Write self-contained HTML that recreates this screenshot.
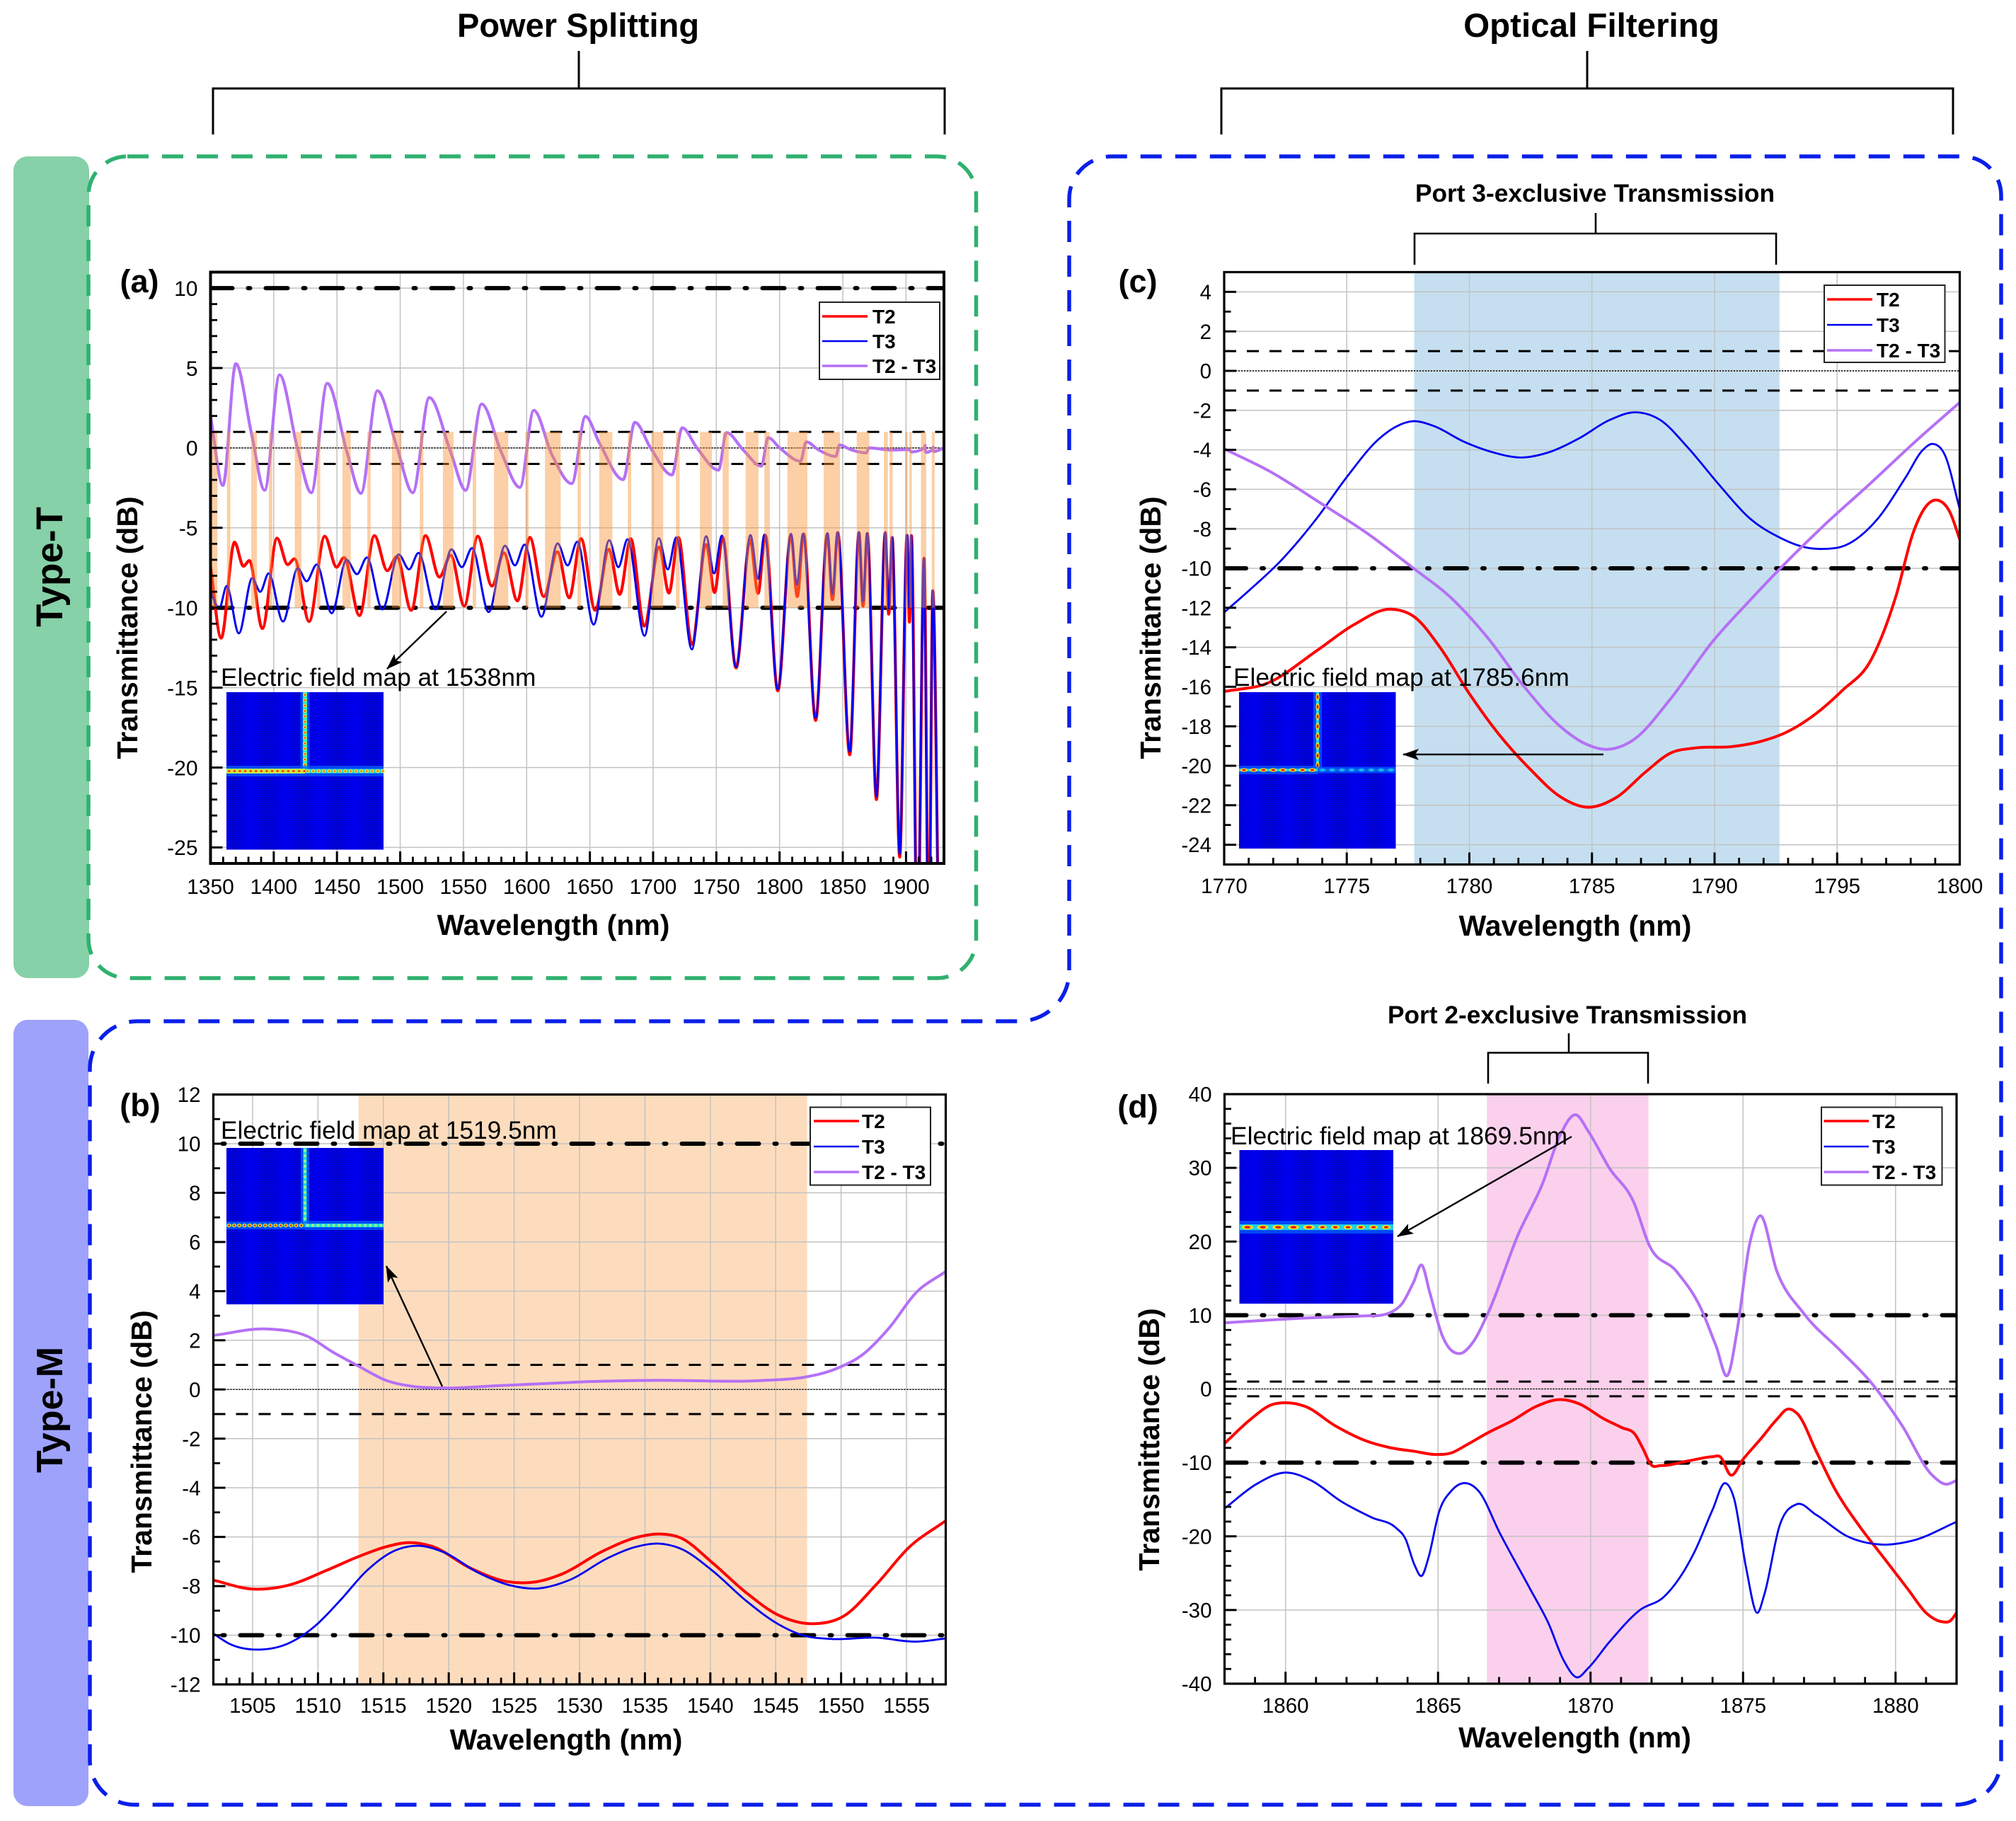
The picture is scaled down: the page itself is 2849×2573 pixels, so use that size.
<!DOCTYPE html>
<html lang="en">
<head>
<meta charset="utf-8">
<title>Transmittance spectra of Type-T and Type-M splitters</title>
<style>
html,body{margin:0;padding:0;background:#fff}
svg{display:block}
text{font-family:"Liberation Sans",Arial,sans-serif;fill:#000}
.b{font-weight:bold}
</style>
</head>
<body>
<svg id="fig" xmlns="http://www.w3.org/2000/svg" width="2849" height="2573" viewBox="0 0 2849 2573">
<defs>
<pattern id="fieldDots" patternUnits="userSpaceOnUse" width="3" height="3"><rect width="3" height="3" fill="#0000ee"/><circle cx="1.5" cy="1.5" r="0.65" fill="#00008c"/></pattern>
<marker id="arrowHead" markerUnits="userSpaceOnUse" markerWidth="24" markerHeight="20" refX="22" refY="10" orient="auto"><path d="M0,2 L23,10 L0,18 L5,10 Z" fill="#000"/></marker>
</defs>
<rect width="2849" height="2573" fill="#fff"/>

<text class="b" x="817" y="52" font-size="47" text-anchor="middle">Power Splitting</text>
<text class="b" x="2249" y="52" font-size="47.5" text-anchor="middle">Optical Filtering</text>
<path d="M301,190V125H1335V190M818,125V72" fill="none" stroke="#000" stroke-width="3"/>
<path d="M1726,190V125H2760V190M2243,125V72" fill="none" stroke="#000" stroke-width="3"/>

<rect x="19" y="221" width="107" height="1161" rx="20" fill="#86d1a7"/>
<rect x="19" y="1441" width="106" height="1111" rx="20" fill="#9ea2fb"/>
<text class="b" font-size="53" text-anchor="middle" transform="translate(88,801) rotate(-90)">Type-T</text>
<text class="b" font-size="52" text-anchor="middle" transform="translate(88,1992) rotate(-90)">Type-M</text>

<rect x="125" y="221" width="1254.5" height="1161" rx="55" fill="none" stroke="#2fb16f" stroke-width="5.5" stroke-dasharray="30 19"/>
<path d="M1511,1371V281A60,60 0 0 1 1571,221H2773A55,55 0 0 1 2828,276V2485A65,65 0 0 1 2763,2550H190A63,63 0 0 1 127,2487V1510A67,67 0 0 1 194,1443H1440A71,71 0 0 0 1511,1371Z" fill="none" stroke="#0a1fe8" stroke-width="5.5" stroke-dasharray="30 19"/>

<text class="b" x="2254" y="285" font-size="35.3" text-anchor="middle">Port 3-exclusive Transmission</text>
<path d="M1999,374V330H2510V374M2255,330V301" fill="none" stroke="#000" stroke-width="2.6"/>
<text class="b" x="2215" y="1446" font-size="35.3" text-anchor="middle">Port 2-exclusive Transmission</text>
<path d="M2103,1531V1487.5H2329V1531M2217,1487.5V1460" fill="none" stroke="#000" stroke-width="2.6"/>

<g id="charts"></g>

<text class="b" x="197" y="413" font-size="45" text-anchor="middle">(a)</text>
<text class="b" x="198" y="1577" font-size="45" text-anchor="middle">(b)</text>
<text class="b" x="1608" y="413" font-size="45" text-anchor="middle">(c)</text>
<text class="b" x="1608" y="1579" font-size="45" text-anchor="middle">(d)</text>

<text x="312" y="969" font-size="35.3">Electric field map at 1538nm</text>
<text x="312" y="1609" font-size="35.3">Electric field map at 1519.5nm</text>
<text x="1743" y="969" font-size="35.3">Electric field map at 1785.6nm</text>
<text x="1739" y="1617" font-size="35.4">Electric field map at 1869.5nm</text>

<line x1="631" y1="864" x2="547" y2="945" stroke="#000" stroke-width="2.4" marker-end="url(#arrowHead)"/>
<line x1="625" y1="1959" x2="546" y2="1789" stroke="#000" stroke-width="2.4" marker-end="url(#arrowHead)"/>
<line x1="2266" y1="1066" x2="1983" y2="1066" stroke="#000" stroke-width="2.4" marker-end="url(#arrowHead)"/>
<line x1="2221" y1="1606" x2="1975" y2="1747" stroke="#000" stroke-width="2.4" marker-end="url(#arrowHead)"/>
</svg>

<script>
/* ---------- panel (a) values ---------- */
const a_x_ticks = [1350,1400,1450,1500,1550,1600,1650,1700,1750,1800,1850,1900];
const a_y_ticks = [10,5,0,-5,-10,-15,-20,-25];
const a_t2_nm = [1350,1358.4,1369,1376,1380.8,1391,1402.6,1411,1416.4,1428,1440.3,1449.7,1455.6,1467.8,1479.6,1489.8,1497.3,1508.7,1520,1531,1540,1550.7,1561.3,1572.5,1582,1592.7,1602.5,1613.5,1624.3,1633.7,1643,1654.2,1665,1673.6,1682.3,1693,1704.8,1712.5,1720,1730.6,1742,1748.6,1755,1765.6,1776.7,1783,1788.7,1798.6,1809,1814,1819,1828.5,1837.8,1841.8,1846,1855.5,1862.8,1866,1869.4,1876.6,1883.6,1886.3,1889,1895,1900.8,1902.7,1904.3,1909,1914.3,1918,1921.2,1926];
const a_t2_db = [-7.4,-11.9,-5.9,-7.4,-7.05,-11.3,-5.65,-7.3,-6.94,-10.86,-5.53,-7.46,-6.86,-10.49,-5.49,-7.68,-6.8,-10.16,-5.49,-8.08,-6.72,-9.9,-5.53,-8.64,-6.57,-9.57,-5.6,-9.3,-6.5,-9.38,-5.68,-10.16,-6.35,-9.16,-5.68,-11.15,-6.2,-9.08,-5.6,-12.3,-6.05,-9.05,-5.6,-13.76,-5.75,-9.1,-5.46,-15.2,-5.46,-9.3,-5.38,-17.05,-5.38,-9.5,-5.3,-19.2,-5.3,-9.9,-5.35,-22,-5.3,-10.4,-5.6,-25.6,-5.46,-10.9,-5.5,-32,-6.9,-32,-8.94,-32];
const a_t3_nm = [1350,1356.9,1362.8,1372.4,1383,1389.3,1396,1407.3,1419,1426,1434,1445.8,1457.6,1465.8,1473.7,1485.9,1498.8,1507,1514.5,1528,1540.5,1548.7,1556.8,1570,1582.9,1590.7,1598.4,1611.7,1624.5,1632.4,1640,1653,1665.3,1672.5,1679.8,1693.2,1704.5,1711.6,1718.3,1730.6,1742,1748.2,1754.4,1765.6,1777,1783,1788,1798.6,1809,1813.7,1818.5,1828.5,1837.8,1841.8,1846,1855.5,1862.7,1866,1869.2,1876.6,1883.6,1886.5,1889,1895,1900.8,1902.7,1904,1909,1914,1918,1921.2,1926];
const a_t3_db = [-9,-10.04,-8.64,-11.6,-8.15,-9,-7.85,-10.86,-7.53,-8.34,-7.3,-10.34,-7,-7.9,-6.86,-10.1,-6.67,-7.6,-6.57,-10.1,-6.35,-7.46,-6.27,-10.27,-6.12,-7.35,-6.05,-10.56,-5.98,-7.35,-5.87,-11.05,-5.78,-7.46,-5.72,-11.75,-5.65,-7.6,-5.6,-12.6,-5.53,-7.85,-5.49,-13.7,-5.46,-8.2,-5.43,-15.1,-5.38,-8.56,-5.38,-16.9,-5.34,-9.13,-5.3,-19,-5.28,-9.6,-5.34,-21.8,-5.3,-10.04,-5.6,-25.4,-5.46,-10,-5.46,-32,-6.94,-32,-8.94,-32];
const a_diff_nm = [1350,1359.8,1370,1382.4,1392.8,1404.6,1418.7,1429.7,1442.3,1458,1469,1482,1497,1510,1523,1540,1551.8,1564.4,1580,1594.7,1605.6,1620,1635.7,1646.5,1657.6,1676.3,1685.6,1698,1714.9,1723,1734.7,1751.7,1758,1771.3,1785.6,1791,1800,1816.6,1821,1831,1844.5,1847.4,1856,1868.6,1870.5,1889,1902.3,1904.3,1914.5,1915,1915.6,1920.8,1921.4,1922,1930];
const a_diff_db = [2,-2.35,5.27,0.9,-2.65,4.57,0,-2.8,4.04,-0.28,-2.84,3.57,0.16,-2.8,3.15,-0.28,-2.65,2.75,-0.28,-2.47,2.35,-0.43,-2.23,1.97,0.3,-1.98,1.6,0,-1.69,1.26,0,-1.39,0.96,-0.13,-1.14,0.64,0.01,-0.83,0.38,-0.13,-0.53,0.19,-0.1,-0.31,0,-0.13,-0.1,-0.25,-0.02,0.16,-0.28,-0.12,0.05,-0.22,0];
const a_band_start = [1350.4,1363,1382.2,1396.1,1416.6,1434.2,1454.3,1474,1493.5,1515.5,1533.8,1557.3,1574.2,1599,1614.5,1640.2,1657.4,1680,1698.5,1718,1737,1755,1773.2,1788,1806.2,1834.9,1861,1882.5,1887,1899.3,1902.5,1911.8,1920.4];
const a_band_end = [1355.5,1365.7,1386.7,1398.9,1421.9,1436.8,1460.9,1476.6,1501,1518.3,1542.2,1560,1585.4,1601.6,1626.9,1642.9,1667.8,1682.7,1708,1721,1746.5,1759.8,1783.3,1792.3,1822,1847.8,1871,1885.6,1889.4,1901.4,1904.6,1916,1922.6];

/* ---------- panel (b) values ---------- */
const b_x_ticks = [1505,1510,1515,1520,1525,1530,1535,1540,1545,1550,1555];
const b_y_ticks = [12,10,8,6,4,2,0,-2,-4,-6,-8,-10,-12];
const b_t2_nm = [1502,1505,1507.7,1510.7,1513.1,1515.2,1517,1518.7,1521.7,1524.5,1526.5,1528.7,1531.7,1534.5,1536,1537.7,1540.2,1542.7,1545.2,1548,1550.2,1552.7,1555.2,1558];
const b_t2_db = [-7.76,-8.12,-7.97,-7.35,-6.8,-6.4,-6.23,-6.38,-7.28,-7.82,-7.84,-7.5,-6.6,-6,-5.88,-6.03,-7.07,-8.25,-9.18,-9.53,-9.22,-7.93,-6.42,-5.34];
const b_t3_nm = [1502,1503.2,1505.7,1507.7,1509.7,1511.7,1513.7,1515.7,1517.6,1519.7,1522.2,1524.7,1526.7,1529.2,1532.2,1534.2,1536,1537.7,1540.2,1542.7,1545.2,1547.2,1549.2,1552.7,1555.7,1558];
const b_t3_db = [-9.93,-10.34,-10.58,-10.34,-9.66,-8.58,-7.39,-6.6,-6.36,-6.64,-7.44,-7.97,-8.1,-7.76,-6.85,-6.42,-6.27,-6.47,-7.39,-8.58,-9.55,-10.02,-10.15,-10.1,-10.26,-10.13];
const b_diff_nm = [1502,1506.2,1509.2,1511.2,1513.1,1515.2,1517.2,1519.7,1523.7,1528.2,1530.7,1535.7,1544.2,1547.2,1549.7,1551.7,1553.7,1555.7,1558];
const b_diff_db = [2.2,2.46,2.16,1.5,0.95,0.37,0.13,0.06,0.15,0.26,0.32,0.37,0.37,0.5,0.86,1.44,2.52,3.92,4.8];
const b_band_start = [1513.1];
const b_band_end = [1547.4];

/* ---------- panel (c) values ---------- */
const c_x_ticks = [1770,1775,1780,1785,1790,1795,1800];
const c_y_ticks = [4,2,0,-2,-4,-6,-8,-10,-12,-14,-16,-18,-20,-22,-24];
const c_t2_nm = [1770,1771.8,1773.8,1775.3,1776.8,1777.8,1778.8,1780,1781.2,1782.5,1783.7,1784.85,1786,1787.2,1788.2,1789.2,1790.7,1791.9,1792.9,1794.2,1795.2,1796.4,1797.4,1798.1,1798.6,1799.1,1799.6,1800];
const c_t2_db = [-16.24,-15.8,-14.15,-12.85,-12.07,-12.5,-14,-16.35,-18.4,-20.2,-21.56,-22.1,-21.6,-20.3,-19.36,-19.1,-19.03,-18.76,-18.32,-17.3,-16.2,-14.6,-11.4,-8.2,-6.9,-6.55,-7.16,-8.53];
const c_t3_nm = [1770,1771,1772.3,1773.8,1775,1776.3,1777,1777.7,1778.5,1779.8,1781,1782.1,1783.2,1784.5,1785.7,1786.8,1787.8,1788.9,1790.2,1791.4,1792.7,1793.7,1794.4,1795.4,1796.6,1797.8,1798.5,1798.9,1799.4,1800];
const c_t3_db = [-12.23,-11.14,-9.63,-7.43,-5.38,-3.46,-2.83,-2.55,-2.77,-3.6,-4.14,-4.39,-4.14,-3.4,-2.5,-2.1,-2.5,-3.87,-5.79,-7.43,-8.47,-8.94,-9.02,-8.8,-7.57,-5.38,-4,-3.7,-4.28,-7];
const c_diff_nm = [1770,1771.8,1774,1775.8,1777.7,1779.3,1780.8,1782.2,1783.7,1784.7,1785.6,1786.7,1788.2,1789.9,1791.4,1792.7,1794.4,1796.4,1798.1,1800];
const c_diff_db = [-3.95,-5.05,-6.75,-8.2,-9.98,-11.55,-13.6,-15.94,-18,-18.87,-19.17,-18.68,-16.62,-13.74,-11.68,-9.98,-7.9,-5.65,-3.68,-1.6];
const c_band_start = [1777.75];
const c_band_end = [1792.65];

/* ---------- panel (d) values ---------- */
const d_x_ticks = [1860,1865,1870,1875,1880];
const d_y_ticks = [40,30,20,10,0,-10,-20,-30,-40];
const d_t2_nm = [1858,1858.84,1859.54,1860,1860.64,1861.64,1862.63,1863.43,1864.23,1864.93,1865.43,1865.93,1866.63,1867.43,1868.22,1869.02,1869.62,1870.42,1871.02,1871.46,1871.72,1871.98,1872.3,1873.2,1874,1874.25,1874.6,1875,1875.6,1876.1,1876.47,1876.8,1877.4,1878,1878.8,1879.6,1880.4,1881,1881.54,1881.8,1882];
const d_t2_db = [-7.4,-4.17,-2.15,-1.87,-2.37,-5.03,-7.04,-7.97,-8.47,-8.9,-8.69,-7.61,-5.96,-4.31,-2.37,-1.44,-2,-4.02,-5.24,-6.18,-8.11,-10.27,-10.4,-9.77,-9.2,-9.2,-11.7,-9.55,-6.68,-4.17,-2.73,-3.45,-8.47,-13.5,-18.53,-22.84,-27.15,-30.38,-31.6,-31.45,-30.38];
const d_t3_nm = [1858,1859.04,1860,1860.84,1861.84,1862.83,1863.63,1863.93,1864.23,1864.47,1864.69,1865.03,1865.43,1865.89,1866.33,1867.03,1868.02,1868.62,1869.12,1869.56,1869.92,1870.62,1871.62,1872.41,1873.41,1874,1874.41,1874.71,1875.1,1875.47,1875.7,1876.2,1876.75,1877.4,1878.4,1879.5,1880.6,1882];
const d_t3_db = [-16.23,-12.93,-11.35,-12.42,-15.3,-17.45,-18.89,-20.32,-23.9,-25.35,-22.84,-16.73,-13.86,-12.78,-13.86,-19.6,-27.15,-31.8,-36.84,-39.14,-37.9,-34.33,-30,-28.2,-22.1,-16.4,-12.78,-14.94,-24.27,-30.38,-27.86,-18.53,-15.66,-17.09,-19.96,-21.11,-20.54,-18.03];
const d_diff_nm = [1858,1860.64,1862.6,1863.2,1863.5,1863.83,1864.2,1864.47,1864.73,1865.13,1865.73,1866.13,1866.63,1867.63,1868.42,1869.02,1869.52,1869.92,1870.62,1871.42,1871.92,1872.82,1873.62,1874.11,1874.51,1874.81,1875.21,1875.55,1876.11,1877,1878.2,1879.2,1880.2,1881.2,1881.66,1882];
const d_diff_db = [8.98,9.62,9.92,10.05,10.5,11.63,14.5,16.8,13.07,7.32,4.81,6.25,10.2,20.97,27.8,34.6,37.2,35,29.95,25.3,19.53,15.94,10.92,5.89,1.94,8.04,19.53,23.48,15.94,10.2,5.17,0.86,-4.88,-11.7,-12.93,-12.42];
const d_band_start = [1866.6];
const d_band_end = [1871.9];

/* ---------- reference levels and legend ---------- */
const a_dashdot_levels = [10,-10];
const b_dashdot_levels = [10,-10];
const c_dashdot_levels = [-10];
const d_dashdot_levels = [10,-10];
const dashed_levels = [1,-1];
const legend_labels = ['T2','T3','T2 - T3'];

const NS = 'http://www.w3.org/2000/svg';
const COL_T2 = '#ff0000', COL_T3 = '#0000f0', COL_DIFF = '#b570f5';
const root = document.getElementById('charts');

function el(tag, attrs, parent){
  const e = document.createElementNS(NS, tag);
  for (const k in attrs) e.setAttribute(k, attrs[k]);
  parent.appendChild(e);
  return e;
}
function linearScale(d0,d1,r0,r1){ return v => r0 + (v-d0)*(r1-r0)/(d1-d0); }

/* cubic path through the data points; `limit` flattens tangents at extrema
   (resonance panel), otherwise tangents are weighted slopes for smoother lines */
function curvePath(nm, db, xs, ys, limit){
  const X = nm.map(xs), Y = db.map(ys), n = X.length;
  const h = [], s = [], t = new Array(n);
  for (let i=0;i<n-1;i++){ h[i]=X[i+1]-X[i]; s[i]=(Y[i+1]-Y[i])/h[i]; }
  t[0]=s[0]; t[n-1]=s[n-2];
  for (let i=1;i<n-1;i++){
    const p=(s[i-1]*h[i]+s[i]*h[i-1])/(h[i-1]+h[i]);
    t[i]= limit ? (Math.sign(s[i-1])+Math.sign(s[i]))*Math.min(Math.abs(s[i-1]),Math.abs(s[i]),0.5*Math.abs(p)) : p;
  }
  let d='M'+X[0].toFixed(2)+','+Y[0].toFixed(2);
  for (let i=0;i<n-1;i++){
    const k=h[i]/3;
    d+='C'+(X[i]+k).toFixed(2)+','+(Y[i]+t[i]*k).toFixed(2)+' '+(X[i+1]-k).toFixed(2)+','+(Y[i+1]-t[i+1]*k).toFixed(2)+' '+X[i+1].toFixed(2)+','+Y[i+1].toFixed(2);
  }
  return d;
}

function drawPanel(p){
  const g = el('g',{},root);
  
  
  const xs = linearScale(p.xDom[0],p.xDom[1],p.x0,p.x1);
  const ys = linearScale(p.yDom[0],p.yDom[1],p.y1,p.y0);

  /* shaded bands below the curves */
  if (!p.bandsOnTop) p.bandStart.forEach((b,i)=>{
    const r = el('rect',{x:xs(b),y:p.y0,width:xs(p.bandEnd[i])-xs(b),height:p.y1-p.y0,fill:p.bandColor},g);
    
    
  });

  /* gridlines */
  p.xTicks.forEach(v=>{
    const l = el('line',{x1:xs(v),x2:xs(v),y1:p.y0,y2:p.y1,stroke:'#c2c2c2','stroke-width':1.5},g);
    
    
  });
  p.yTicks.forEach(v=>{
    const l = el('line',{x1:p.x0,x2:p.x1,y1:ys(v),y2:ys(v),stroke:'#c2c2c2','stroke-width':1.5},g);
    
    
  });

  /* clip + reference lines */
  const clip = el('clipPath',{id:p.id+'-clip'},g);
  el('rect',{x:p.x0,y:p.y0,width:p.x1-p.x0,height:p.y1-p.y0},clip);
  const plot = el('g',{'clip-path':'url(#'+p.id+'-clip)'},g);

  dashed_levels.forEach(v=>{
    const l = el('line',{x1:p.x0,x2:p.x1,y1:ys(v),y2:ys(v),stroke:'#000','stroke-width':3,'stroke-dasharray':'17 15'},plot);
    
    
  });
  const zero = el('line',{x1:p.x0,x2:p.x1,y1:ys(0),y2:ys(0),stroke:'#000','stroke-width':1.6,'stroke-dasharray':'2 2'},plot);
  
  
  p.dashdot.forEach(v=>{
    const l = el('line',{x1:p.x0,x2:p.x1,y1:ys(v),y2:ys(v),stroke:'#000','stroke-width':6,'stroke-linecap':'round','stroke-dasharray':'31 22 3 22','stroke-dashoffset':p.dashOffset},plot);
    
    
  });

  /* series */
  const t2 = el('path',{d:curvePath(p.t2nm,p.t2db,xs,ys,p.bandsOnTop),fill:'none',stroke:COL_T2,'stroke-width':p.w2,'stroke-linejoin':'round'},plot);
  
  
  const t3 = el('path',{d:curvePath(p.t3nm,p.t3db,xs,ys,p.bandsOnTop),fill:'none',stroke:COL_T3,'stroke-width':p.w3,'stroke-linejoin':'round'},plot);
  
  
  const df = el('path',{d:curvePath(p.dnm,p.ddb,xs,ys,p.bandsOnTop),fill:'none',stroke:COL_DIFF,'stroke-width':p.w2,'stroke-linejoin':'round'},plot);
  
  

  /* translucent bars drawn over the curves (panel a) */
  if (p.bandsOnTop) p.bandStart.forEach((b,i)=>{
    const r = el('rect',{x:xs(b),y:ys(1),width:xs(p.bandEnd[i])-xs(b),height:ys(-10)-ys(1),fill:'#f9953a','fill-opacity':0.45},plot);
    
    
  });

  /* minor ticks */
  for (let v=Math.ceil(p.xDom[0]/p.xMinor)*p.xMinor; v<=p.xDom[1]; v+=p.xMinor){
    if (p.xTicks.includes(v)) continue;
    const l = el('line',{x1:xs(v),x2:xs(v),y1:p.y1,y2:p.y1-9.5,stroke:'#000','stroke-width':2.8},g);
    
    
  }
  for (let v=Math.ceil(p.yDom[0]/p.yMinor)*p.yMinor; v<=p.yDom[1]; v+=p.yMinor){
    if (p.yTicks.includes(v)) continue;
    const l = el('line',{x1:p.x0,x2:p.x0+9.5,y1:ys(v),y2:ys(v),stroke:'#000','stroke-width':2.8},g);
    
    
  }
  /* major ticks + labels */
  p.xTicks.forEach(v=>{
    const l = el('line',{x1:xs(v),x2:xs(v),y1:p.y1,y2:p.y1-17,stroke:'#000','stroke-width':3},g);
    
    
    const t = el('text',{x:xs(v),y:p.xLabelY,'font-size':p.tickFs,'text-anchor':'middle'},g);
    t.textContent = String(v);
    
    
  });
  p.yTicks.forEach(v=>{
    const l = el('line',{x1:p.x0,x2:p.x0+17,y1:ys(v),y2:ys(v),stroke:'#000','stroke-width':3},g);
    
    
    const t = el('text',{x:p.x0-18,y:ys(v)+p.tickFs*0.36,'font-size':p.tickFs,'text-anchor':'end'},g);
    t.textContent = String(v);
    
    
  });

  /* frame */
  const fr = el('rect',{x:p.x0,y:p.y0,width:p.x1-p.x0,height:p.y1-p.y0,fill:'none',stroke:'#000','stroke-width':p.frameW},g);
  
  

  /* axis titles */
  const xt = el('text',{x:p.xTitle[0],y:p.xTitle[1],'font-size':41,'font-weight':'bold','text-anchor':'middle'},g);
  xt.textContent = 'Wavelength (nm)';
  
  
  const yt = el('text',{'font-size':41,'font-weight':'bold','text-anchor':'middle',transform:'translate('+p.yTitle[0]+','+p.yTitle[1]+') rotate(-90)'},g);
  yt.textContent = 'Transmittance (dB)';
  
  

  /* legend */
  const L = p.legend;
  const lg = el('g',{},g);
  
  
  el('rect',{x:L.x0,y:L.y0,width:L.x1-L.x0,height:L.y1-L.y0,fill:'#fff',stroke:'#222','stroke-width':2},lg);
  const cols = [COL_T2,COL_T3,COL_DIFF];
  const wids = [3.6,2.6,3.6];
  legend_labels.forEach((txt,i)=>{
    const key = el('line',{x1:L.kx0,x2:L.kx1,y1:L.ky[i],y2:L.ky[i],stroke:cols[i],'stroke-width':wids[i]},lg);
    
    
    const t = el('text',{x:L.tx,y:L.ky[i]+10,'font-size':28,'font-weight':'bold'},lg);
    t.textContent = txt;
    
    
  });
}

/* field-map insets */
function drawInset(name, x, y, w, h, arms){
  const g = el('g',{},root);
  
  
  el('rect',{x:x,y:y,width:w,height:h,fill:'url(#fieldDots)'},g);
  arms.forEach(a=>{
    const horiz = a.y1===a.y2;
    el('line',{x1:a.x1,y1:a.y1,x2:a.x2,y2:a.y2,stroke:'#0060ff','stroke-width':a.halo,'stroke-opacity':0.75},g);
    el('line',{x1:a.x1,y1:a.y1,x2:a.x2,y2:a.y2,stroke:a.band,'stroke-width':a.core},g);
    const len = horiz ? a.x2-a.x1 : a.y2-a.y1;
    for (let s=a.step/2; s<len; s+=a.step){
      const cx = horiz ? a.x1+s : a.x1;
      const cy = horiz ? a.y1 : a.y1+s;
      el('ellipse',{cx:cx,cy:cy,rx:a.rx,ry:a.ry,fill:a.outer},g);
      el('ellipse',{cx:cx,cy:cy,rx:a.rx*0.55,ry:a.ry*0.55,fill:a.inner},g);
    }
  });
}

/* ---------- build the four panels ---------- */
drawPanel({id:'panel-a',x0:297.5,x1:1334,y0:384.5,y1:1220,xDom:[1350,1930],yDom:[-26,11],xTicks:a_x_ticks,yTicks:a_y_ticks,xMinor:10,yMinor:1,
  t2nm:a_t2_nm,t2db:a_t2_db,t3nm:a_t3_nm,t3db:a_t3_db,dnm:a_diff_nm,ddb:a_diff_db,bandStart:a_band_start,bandEnd:a_band_end,bandsOnTop:true,
  dashdot:a_dashdot_levels,dashOffset:0,w2:4.2,w3:3,frameW:4,tickFs:30,xLabelY:1263,xTitle:[782,1321],yTitle:[194,887],
  legend:{x0:1158,x1:1328,y0:427,y1:536,kx0:1162,kx1:1226,ky:[447,482,517],tx:1233}});

drawPanel({id:'panel-b',x0:301.5,x1:1336.5,y0:1546.5,y1:2380,xDom:[1502,1558],yDom:[-12,12],xTicks:b_x_ticks,yTicks:b_y_ticks,xMinor:1,yMinor:1,
  t2nm:b_t2_nm,t2db:b_t2_db,t3nm:b_t3_nm,t3db:b_t3_db,dnm:b_diff_nm,ddb:b_diff_db,bandStart:b_band_start,bandEnd:b_band_end,bandColor:'#fddcbd',bandsOnTop:false,
  dashdot:b_dashdot_levels,dashOffset:40,w2:4,w3:2.8,frameW:3.2,tickFs:29.5,xLabelY:2420,xTitle:[800,2472],yTitle:[214,2037],
  legend:{x0:1145,x1:1315,y0:1564.5,y1:1674.5,kx0:1150,kx1:1214,ky:[1584,1620,1656],tx:1218}});

drawPanel({id:'panel-c',x0:1730,x1:2769.5,y0:384.5,y1:1221.5,xDom:[1770,1800],yDom:[-25,5],xTicks:c_x_ticks,yTicks:c_y_ticks,xMinor:1,yMinor:1,
  t2nm:c_t2_nm,t2db:c_t2_db,t3nm:c_t3_nm,t3db:c_t3_db,dnm:c_diff_nm,ddb:c_diff_db,bandStart:c_band_start,bandEnd:c_band_end,bandColor:'#c5dff0',bandsOnTop:false,
  dashdot:c_dashdot_levels,dashOffset:0,w2:4,w3:2.8,frameW:3.2,tickFs:29.5,xLabelY:1262,xTitle:[2226,1322],yTitle:[1640,887],
  legend:{x0:2578,x1:2748.5,y0:403,y1:512,kx0:2582,kx1:2646,ky:[423,459,495],tx:2652}});

drawPanel({id:'panel-d',x0:1730.5,x1:2765,y0:1546,y1:2379,xDom:[1858,1882],yDom:[-40,40],xTicks:d_x_ticks,yTicks:d_y_ticks,xMinor:1,yMinor:2,
  t2nm:d_t2_nm,t2db:d_t2_db,t3nm:d_t3_nm,t3db:d_t3_db,dnm:d_diff_nm,ddb:d_diff_db,bandStart:d_band_start,bandEnd:d_band_end,bandColor:'#fbd0ec',bandsOnTop:false,
  dashdot:d_dashdot_levels,dashOffset:0,w2:4,w3:2.8,frameW:3.2,tickFs:29.5,xLabelY:2420,xTitle:[2225.5,2469],yTitle:[1638,2034],
  legend:{x0:2574,x1:2744.5,y0:1564.5,y1:1674.5,kx0:2577.5,kx1:2641,ky:[1584,1620,1656],tx:2646}});

/* ---------- field map insets ---------- */
drawInset('field-map-a',320,978,222,222.5,[
  {x1:431,y1:978,x2:431,y2:1089,halo:13,core:6,band:'#30e8c0',step:7.6,rx:2.4,ry:2.4,outer:'#f8f020',inner:'#f05010'},
  {x1:320,y1:1089.5,x2:431,y2:1089.5,halo:15,core:7,band:'#a0f060',step:7.6,rx:3.2,ry:2.6,outer:'#f8e020',inner:'#f03010'},
  {x1:431,y1:1089.5,x2:542,y2:1089.5,halo:15,core:6,band:'#28e0d8',step:7.6,rx:2.6,ry:2.6,outer:'#e8f040',inner:'#f07020'}
]);
drawInset('field-map-b',320,1622,222,221,[
  {x1:431,y1:1622,x2:431,y2:1731,halo:12,core:5,band:'#18d8e0',step:7.4,rx:2.4,ry:2.4,outer:'#60f0b0',inner:'#c0f060'},
  {x1:320,y1:1731.5,x2:431,y2:1731.5,halo:11,core:4,band:'#10a0f0',step:7.3,rx:2.7,ry:2.7,outer:'#e8f020',inner:'#e82010'},
  {x1:431,y1:1731.5,x2:542,y2:1731.5,halo:13,core:5,band:'#18d8e0',step:7.4,rx:2.5,ry:2.5,outer:'#60f0b0',inner:'#b0f070'}
]);
drawInset('field-map-c',1751,978,221.5,221,[
  {x1:1862,y1:978,x2:1862,y2:1087,halo:12,core:4,band:'#20d0e8',step:13.8,rx:2.6,ry:5.2,outer:'#f8e020',inner:'#e81808'},
  {x1:1751,y1:1088,x2:1862,y2:1088,halo:12,core:4,band:'#20d0e8',step:13.8,rx:5.2,ry:2.6,outer:'#f8e020',inner:'#e81808'},
  {x1:1862,y1:1088,x2:1972,y2:1088,halo:9,core:3,band:'#0868f0',step:13.8,rx:4.5,ry:2.4,outer:'#10a0f0',inner:'#20b8f0'}
]);
drawInset('field-map-d',1751.5,1625,217.5,217,[
  {x1:1752,y1:1734,x2:1860,y2:1734,halo:18,core:8,band:'#20d0e8',step:21.7,rx:8,ry:3.2,outer:'#f8e020',inner:'#e81808'},
  {x1:1860,y1:1734,x2:1969,y2:1734,halo:18,core:8,band:'#20d0e8',step:18,rx:6,ry:3,outer:'#f8e020',inner:'#e81808'}
]);
</script>
</body>
</html>
